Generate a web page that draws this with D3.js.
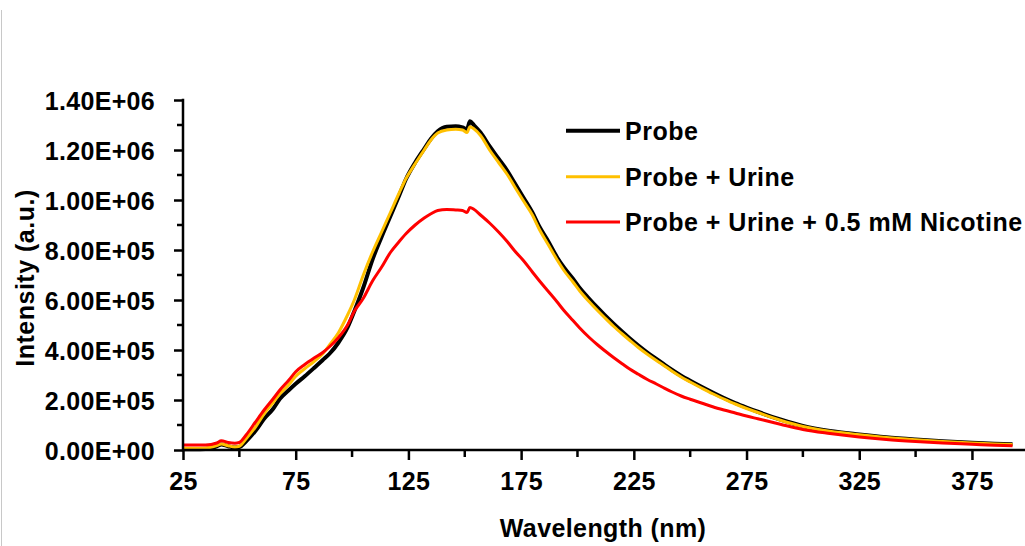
<!DOCTYPE html>
<html>
<head>
<meta charset="utf-8">
<script src="https://cdn.jsdelivr.net/npm/d3@7"></script>
<style>
  html, body { margin: 0; padding: 0; background: #fff; }
  svg { display: block; }
  text { font-family: "Liberation Sans", Arial, sans-serif; font-weight: bold; fill: #000; }
</style>
</head>
<body>
<svg id="chart" width="1025" height="546"></svg>
<script>
// ---- data ----
const wavelength = [25, 30, 35, 40, 42, 45, 48, 50, 53, 57, 61, 65, 68, 72, 75, 79, 83, 87, 90, 94, 98, 101, 105, 109, 113, 117, 121, 124, 128, 132, 135, 138, 142, 146, 149, 151, 152.3, 154, 157, 161, 165, 169, 172, 176, 180, 183, 187, 191, 194, 198, 201, 205, 209, 212, 216, 220, 223, 227, 231, 235, 238, 242, 246, 250, 255, 260, 265, 270, 275, 280, 290, 300, 312, 325, 337, 350, 362, 375, 385, 393];

const probe = [3000, 3000, 4000, 15000, 22000, 15000, 10000, 12000, 35000, 75000, 125000, 165000, 205000, 240000, 265000, 295000, 327000, 360000, 385000, 430000, 490000, 555000, 650000, 760000, 850000, 935000, 1020000, 1085000, 1150000, 1205000, 1245000, 1275000, 1293000, 1295000, 1290000, 1283000, 1315000, 1300000, 1270000, 1215000, 1165000, 1115000, 1070000, 1010000, 950000, 895000, 835000, 770000, 730000, 685000, 648000, 607000, 568000, 540000, 505000, 472000, 448000, 418000, 390000, 364000, 345000, 320000, 297000, 277000, 253000, 230000, 208000, 188000, 170000, 153000, 122000, 96000, 76000, 62000, 51000, 42000, 35000, 29000, 25000, 23000];

const probeUrine = [7000, 7000, 8000, 18000, 24000, 17000, 12000, 15000, 45000, 90000, 145000, 190000, 225000, 262000, 295000, 325000, 353000, 385000, 420000, 470000, 540000, 600000, 700000, 790000, 870000, 950000, 1030000, 1087000, 1145000, 1200000, 1240000, 1268000, 1280000, 1283000, 1280000, 1270000, 1293000, 1285000, 1258000, 1200000, 1150000, 1100000, 1055000, 997000, 940000, 884000, 822000, 760000, 718000, 672000, 636000, 595000, 557000, 530000, 495000, 463000, 440000, 410000, 383000, 358000, 340000, 315000, 292000, 272000, 248000, 225000, 204000, 184000, 166000, 150000, 119000, 94000, 75000, 61000, 50000, 41000, 34000, 28000, 24000, 22000];

const probeUrineNicotine = [20000, 20000, 20000, 28000, 37000, 30000, 27000, 30000, 60000, 110000, 160000, 205000, 240000, 280000, 313000, 342000, 367000, 390000, 413000, 450000, 500000, 555000, 607000, 675000, 730000, 790000, 835000, 866000, 900000, 928000, 945000, 958000, 962000, 960000, 958000, 950000, 970000, 963000, 940000, 908000, 872000, 832000, 798000, 758000, 712000, 678000, 635000, 592000, 558000, 518000, 488000, 452000, 420000, 398000, 370000, 344000, 325000, 303000, 282000, 264000, 250000, 232000, 216000, 203000, 188000, 173000, 160000, 148000, 136000, 125000, 103000, 82000, 66000, 52000, 42000, 34000, 28000, 23000, 19000, 17000];

const seriesNames = ["Probe", "Probe + Urine", "Probe + Urine + 0.5 mM Nicotine"];
const seriesColors = ["#000000", "#FFC000", "#FF0000"];
const seriesWidths = [4, 3, 3];

const xMajorTicks = [25, 75, 125, 175, 225, 275, 325, 375];
const xMinorTicks = [50, 100, 150, 200, 250, 300, 350, 400];
const yMajorTicks = [0, 200000, 400000, 600000, 800000, 1000000, 1200000, 1400000];
const yMinorTicks = [100000, 300000, 500000, 700000, 900000, 1100000, 1300000];
const yTickLabels = ["0.00E+00", "2.00E+05", "4.00E+05", "6.00E+05", "8.00E+05", "1.00E+06", "1.20E+06", "1.40E+06"];

const xTitle = "Wavelength (nm)";
const yTitle = "Intensity (a.u.)";

// ---- drawing ----
const svg = d3.select("#chart");

// thin frame line at the left edge
svg.append("line").attr("x1", 1.5).attr("x2", 1.5).attr("y1", 10).attr("y2", 546)
  .attr("stroke", "#c8c8c8").attr("stroke-width", 1);

const x = d3.scaleLinear().domain([25, 400]).range([183, 1028.3]);
const y = d3.scaleLinear().domain([0, 1400000]).range([450, 100]);

const series = [probe, probeUrine, probeUrineNicotine];

const line = d3.line().x(d => x(d[0])).y(d => y(d[1])).curve(d3.curveMonotoneX);
[0, 1, 2].forEach(i => {
  svg.append("path")
    .datum(wavelength.map((w, k) => [w, series[i][k]]))
    .attr("fill", "none")
    .attr("stroke", seriesColors[i])
    .attr("stroke-width", seriesWidths[i])
    .attr("stroke-linejoin", "round")
    .attr("d", line);
});

const tickFont = g => g.selectAll(".tick text")
  .style("font-size", "25px").style("font-family", "Liberation Sans, Arial, sans-serif")
  .style("font-weight", "bold").style("letter-spacing", "0.3px");

// y axis
const yAxisG = svg.append("g").attr("transform", "translate(183,0)");
yAxisG.call(d3.axisLeft(y).tickValues(yMajorTicks).tickSize(9)
  .tickFormat((d, i) => yTickLabels[i]).tickPadding(19));
yAxisG.select(".domain").remove();
yAxisG.selectAll(".tick line").attr("stroke", "#000").attr("stroke-width", 2.5);
tickFont(yAxisG);
yAxisG.selectAll(".tick text").attr("dy", "0.37em");
yAxisG.selectAll(".minor").data(yMinorTicks).enter().append("line")
  .attr("x1", -6).attr("x2", 0).attr("y1", d => y(d)).attr("y2", d => y(d))
  .attr("stroke", "#000").attr("stroke-width", 2.5);
yAxisG.append("line").attr("x1", 0).attr("x2", 0).attr("y1", y(1400000) - 1.2).attr("y2", y(0) + 1.2)
  .attr("stroke", "#000").attr("stroke-width", 2.5);

// x axis
const xAxisG = svg.append("g").attr("transform", "translate(0,450)");
xAxisG.call(d3.axisBottom(x).tickValues(xMajorTicks).tickSize(10).tickPadding(12)
  .tickFormat(d3.format("d")));
xAxisG.select(".domain").remove();
xAxisG.selectAll(".tick line").attr("stroke", "#000").attr("stroke-width", 2.5);
tickFont(xAxisG);
xAxisG.selectAll(".minor").data(xMinorTicks).enter().append("line")
  .attr("x1", d => x(d)).attr("x2", d => x(d)).attr("y1", 0).attr("y2", 7)
  .attr("stroke", "#000").attr("stroke-width", 2.5);
xAxisG.append("line").attr("x1", 182).attr("x2", 1025).attr("y1", 0).attr("y2", 0)
  .attr("stroke", "#000").attr("stroke-width", 2.5);

// axis titles
svg.append("text").attr("x", 603).attr("y", 537).attr("text-anchor", "middle")
  .style("font-size", "25px").style("letter-spacing", "0.4px").text(xTitle);
svg.append("text").attr("transform", "translate(34,278) rotate(-90)").attr("text-anchor", "middle")
  .style("font-size", "25px").style("letter-spacing", "0.5px").text(yTitle);

// legend
const legendY = [130.7, 176.7, 222];
seriesNames.forEach((name, i) => {
  const g = svg.append("g").attr("transform", `translate(0,${legendY[i]})`);
  g.append("line").attr("x1", 566).attr("x2", 620).attr("y1", 0).attr("y2", 0)
    .attr("stroke", seriesColors[i]).attr("stroke-width", seriesWidths[i]);
  g.append("text").attr("x", 625).attr("y", 9).style("font-size", "25px")
    .style("letter-spacing", "0.5px").text(name);
});
</script>
</body>
</html>
